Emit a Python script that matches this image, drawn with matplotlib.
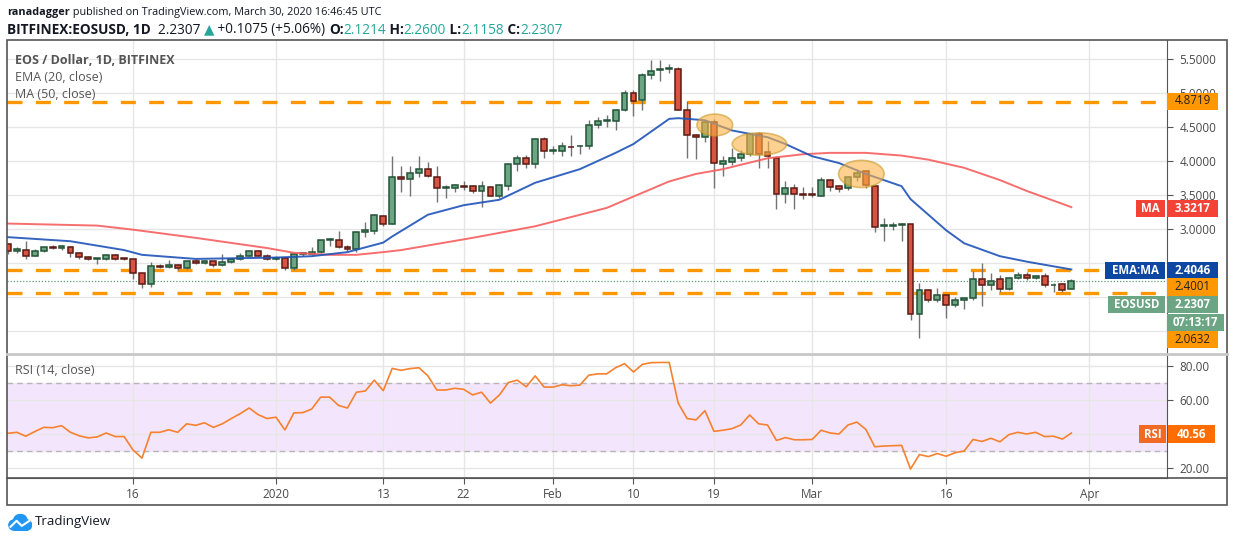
import numpy as np
import matplotlib
matplotlib.use("Agg")
import matplotlib.pyplot as plt
from matplotlib.patches import Ellipse, Rectangle, Circle

W, H = 1234, 541
plt.rcParams['font.family'] = ['Open Sans', 'DejaVu Sans']

# day index counted from 2020-01-01; first candle is 2019-12-02
days = np.arange(-30, 90)

opens = [2.78, 2.68, 2.69, 2.61, 2.68, 2.72, 2.72, 2.73, 2.645, 2.585, 2.555, 2.565, 2.62, 2.565,
         2.555, 2.35, 2.19, 2.46, 2.44, 2.47, 2.42, 2.525, 2.495, 2.525, 2.47, 2.51, 2.56, 2.61, 2.675, 2.61,
         2.56, 2.58, 2.43, 2.63, 2.635, 2.66, 2.835, 2.835, 2.74, 2.70, 2.96, 2.97, 3.19, 3.08, 3.77,
         3.74, 3.82, 3.88, 3.77, 3.61, 3.60, 3.63, 3.63, 3.56, 3.62, 3.49, 3.63, 3.95, 4.04, 3.95, 4.32,
         4.15, 4.15, 4.21, 4.215, 4.22, 4.53, 4.59, 4.59, 4.75, 5.0, 4.90, 5.26, 5.335, 5.35, 5.36,
         4.75, 4.38, 4.35, 4.58, 3.96, 3.99, 4.04, 4.10, 4.40, 4.13, 4.05, 3.52, 3.61, 3.51,
         3.51, 3.49, 3.72, 3.63, 3.60, 3.76, 3.85, 3.63, 3.04, 3.05, 3.06, 3.07, 1.745, 2.10, 1.95,
         2.025, 1.88, 1.95, 1.98, 2.26, 2.17, 2.26, 2.12, 2.28, 2.32, 2.28, 2.31, 2.17, 2.185, 2.1214]
highs = [2.80, 2.74, 2.82, 2.70, 2.74, 2.76, 2.77, 2.75, 2.66, 2.60, 2.58, 2.63, 2.625, 2.58,
         2.56, 2.35, 2.52, 2.48, 2.55, 2.49, 2.53, 2.56, 2.55, 2.53, 2.63, 2.57, 2.64, 2.69, 2.69, 2.63,
         2.61, 2.59, 2.64, 2.65, 2.74, 2.84, 2.87, 2.97, 2.76, 2.97, 3.10, 3.22, 3.20, 4.07, 3.93,
         3.93, 4.07, 3.98, 3.93, 3.64, 3.66, 3.71, 3.64, 3.70, 3.63, 3.66, 3.97, 4.09, 4.09, 4.34, 4.36,
         4.22, 4.28, 4.38, 4.23, 4.60, 4.65, 4.67, 4.77, 5.04, 5.05, 5.30, 5.49, 5.49, 5.42, 5.38,
         4.88, 4.40, 4.60, 4.62, 4.07, 4.19, 4.16, 4.40, 4.42, 4.30, 4.08, 3.70, 3.66, 3.62,
         3.62, 3.77, 3.74, 3.64, 3.78, 3.88, 3.86, 3.63, 3.16, 3.11, 3.09, 3.08, 2.21, 2.12, 2.13,
         2.03, 2.00, 1.99, 2.38, 2.50, 2.35, 2.33, 2.30, 2.37, 2.37, 2.32, 2.36, 2.21, 2.20, 2.26]
lows = [2.63, 2.64, 2.56, 2.60, 2.66, 2.70, 2.69, 2.59, 2.56, 2.54, 2.49, 2.55, 2.55, 2.54,
        2.26, 2.13, 2.15, 2.42, 2.42, 2.40, 2.41, 2.48, 2.48, 2.44, 2.46, 2.50, 2.55, 2.60, 2.60, 2.55,
        2.55, 2.39, 2.40, 2.60, 2.62, 2.65, 2.75, 2.72, 2.68, 2.66, 2.88, 2.93, 3.05, 3.07, 3.55,
        3.48, 3.76, 3.76, 3.40, 3.45, 3.55, 3.58, 3.53, 3.33, 3.48, 3.45, 3.58, 3.86, 3.89, 3.90, 4.05,
        4.10, 4.07, 4.07, 4.10, 4.17, 4.48, 4.50, 4.46, 4.73, 4.66, 4.75, 5.20, 5.17, 5.30, 4.75,
        4.04, 4.03, 4.28, 3.61, 3.78, 3.94, 4.00, 4.08, 3.90, 3.89, 3.30, 3.38, 3.30, 3.44,
        3.47, 3.48, 3.56, 3.55, 3.58, 3.70, 3.60, 2.96, 2.83, 2.98, 2.83, 1.66, 1.39, 1.92, 1.93,
        1.69, 1.85, 1.83, 1.96, 1.86, 2.10, 2.08, 2.10, 2.27, 2.25, 2.26, 2.14, 2.08, 2.08, 2.1158]
closes = [2.68, 2.70, 2.61, 2.68, 2.73, 2.718, 2.745, 2.645, 2.59, 2.555, 2.575, 2.62, 2.555, 2.56,
          2.35, 2.19, 2.45, 2.44, 2.47, 2.42, 2.525, 2.495, 2.525, 2.47, 2.51, 2.555, 2.61, 2.675, 2.61, 2.56,
          2.575, 2.43, 2.63, 2.635, 2.66, 2.835, 2.84, 2.74, 2.70, 2.95, 2.98, 3.21, 3.08, 3.77, 3.74,
          3.82, 3.88, 3.78, 3.60, 3.61, 3.64, 3.62, 3.56, 3.63, 3.49, 3.65, 3.95, 4.04, 3.95, 4.32, 4.15,
          4.16, 4.22, 4.20, 4.225, 4.53, 4.59, 4.595, 4.75, 5.0, 4.89, 5.26, 5.33, 5.345, 5.36, 4.75,
          4.38, 4.35, 4.58, 3.97, 4.0, 4.04, 4.11, 4.40, 4.11, 4.07, 3.52, 3.60, 3.51, 3.505,
          3.505, 3.72, 3.62, 3.59, 3.76, 3.83, 3.64, 3.03, 3.05, 3.06, 3.065, 1.745, 2.10, 1.95, 2.025,
          1.88, 1.95, 1.98, 2.26, 2.17, 2.24, 2.12, 2.28, 2.32, 2.28, 2.31, 2.17, 2.17, 2.10, 2.2307]

ema_days = [-30, -23, -17, -15, -9, 0, 4, 8, 12, 13, 14, 17, 21, 25, 29, 34, 38, 40, 44, 45, 48,
            51, 55, 57, 60, 63, 66, 68, 70, 71, 75, 77, 81, 84, 89]
ema20 = [2.88, 2.82, 2.69, 2.62, 2.56, 2.58, 2.60, 2.66, 2.80, 2.89, 2.97, 3.21, 3.35, 3.43, 3.68, 3.88,
         4.12, 4.25, 4.62, 4.63, 4.60, 4.45, 4.35, 4.25, 4.07, 3.97, 3.81, 3.72, 3.63, 3.44, 2.98, 2.79,
         2.60, 2.52, 2.4046]

ma_days = [-30, -20, -16, -9, -1, 2, 6, 9, 12, 14, 22, 29, 37, 44, 47, 50, 55, 59, 62, 66, 70, 73,
           77, 81, 84, 89]
ma50 = [3.08, 3.05, 2.99, 2.87, 2.72, 2.65, 2.62, 2.62, 2.66, 2.69, 2.87, 3.04, 3.31, 3.70, 3.81,
        3.88, 4.04, 4.10, 4.12, 4.12, 4.08, 4.02, 3.90, 3.72, 3.56, 3.3217]

rsi = [40.4, 41.0, 38.7, 41.4, 43.9, 43.7, 44.9, 41.0, 38.9, 37.7, 38.3, 40.6, 38.5, 38.5,
       30.6, 25.8, 41.0, 41.0, 42.5, 41.0, 46.0, 45.1, 46.6, 43.9, 46.0, 49.1, 52.0, 55.3, 51.4, 49.1,
       49.9, 42.4, 52.4, 52.6, 54.7, 61.7, 61.7, 56.8, 55.3, 64.6, 65.3, 71.7, 65.5, 78.6, 77.5,
       78.5, 79.0, 74.2, 65.9, 65.9, 66.9, 66.3, 63.0, 64.6, 58.2, 63.0, 70.3, 71.7, 67.8, 74.2, 67.6,
       67.6, 69.0, 68.4, 68.8, 74.6, 75.4, 75.4, 79.0, 81.4, 76.5, 81.0, 82.0, 82.1, 82.1, 58.2,
       49.1, 48.3, 53.7, 41.6, 42.2, 43.1, 45.3, 51.2, 46.0, 45.3, 36.2, 37.9, 36.6, 36.6,
       36.8, 42.2, 40.6, 40.0, 45.3, 47.0, 42.7, 32.5, 32.9, 33.1, 33.3, 19.4, 27.9, 26.7, 28.5,
       26.9, 29.0, 30.0, 36.8, 35.6, 37.5, 35.4, 39.6, 41.0, 40.0, 41.0, 38.5, 38.7, 37.0, 40.56]

levels = [4.8719, 2.4001, 2.0632]
last_close = 2.2307

tick_days = [-16, 0, 12, 21, 31, 40, 49, 60, 75, 91]
tick_labels = ["16", "2020", "13", "22", "Feb", "10", "19", "Mar", "16", "Apr"]
price_ticks = [3.0, 3.5, 4.0, 4.5, 5.0, 5.5]
rsi_ticks = [20, 60, 80]

# highlighted areas (day, price, width in days, height in price)
circles = [(49.1, 4.53, 4.0, 0.32), (54.1, 4.25, 6.1, 0.33), (65.5, 3.81, 5.1, 0.40)]

UP, DOWN = "#6ba583", "#d75442"
UP_EDGE, DOWN_EDGE = "#225437", "#5b1a13"
GRID = "#e6e6e6"
TXT = "#4a4a4a"


def fx(x):
    return x / W


def fy(y):
    return 1 - y / H


fig = plt.figure(figsize=(W / 100, H / 100), dpi=100)
fig.patch.set_facecolor("white")

x0, x1 = -30.1, 99.7
ax = fig.add_axes([fx(7), fy(353), fx(1167) - fx(7), fy(40) - fy(353)])
ax2 = fig.add_axes([fx(7), fy(478), fx(1167) - fx(7), fy(355) - fy(478)])

# ---- main price panel
o = np.array(opens); h = np.array(highs); l = np.array(lows); c = np.array(closes)
up = c >= o
ax.vlines(days, l, h, color="#737375", lw=1, zorder=2)
body_lo = np.minimum(o, c)
body_h = np.maximum(np.abs(c - o), 0.012)
ax.bar(days[up], body_h[up], bottom=body_lo[up], width=0.66, color=UP,
       edgecolor=UP_EDGE, linewidth=1.1, zorder=3)
ax.bar(days[~up], body_h[~up], bottom=body_lo[~up], width=0.66, color=DOWN,
       edgecolor=DOWN_EDGE, linewidth=1.1, zorder=3)

ax.plot(ma_days, ma50, color="#f65e5e", lw=1.4, zorder=4, alpha=0.9)
ax.plot(ema_days, ema20, color="#1e53b8", lw=1.4, zorder=4, alpha=0.9)

for lv in levels:
    ax.axhline(lv, color="#ff9800", lw=2.4, dashes=(4.5, 4), zorder=1)
ax.axhline(last_close, color="#5b9a78", lw=0.9, ls=(0, (1, 1.5)), zorder=1)

for (cx, cy, ew, eh) in circles:
    ax.add_patch(Ellipse((cx, cy), ew, eh, facecolor="#ffb347", alpha=0.6,
                         edgecolor="#c89a2a", lw=1.2, zorder=5))

ax.set_xlim(x0, x1)
ax.set_ylim(1.176, 5.78)
ax.set_yticks(np.arange(1.5, 5.51, 0.5), minor=True)
ax.set_yticks(price_ticks)
ax.set_yticklabels(["%.4f" % v for v in price_ticks])
ax.set_xticks(tick_days)
ax.grid(True, which="both", color=GRID, lw=1)
ax.set_axisbelow(True)
ax.tick_params(axis="x", length=0, labelbottom=False)
ax.yaxis.tick_right()
ax.tick_params(axis="y", which="both", direction="out", length=4, color="#555", labelsize=8.5,
               labelcolor=TXT, pad=5)
for s in ["top", "left", "bottom"]:
    ax.spines[s].set_visible(False)
ax.spines["right"].set_color("#555")

ax.text(0.007, 0.935, "EOS / Dollar, 1D, BITFINEX", transform=ax.transAxes, fontsize=9,
        fontweight="bold", color="#555", va="center")
ax.text(0.007, 0.88, "EMA (20, close)", transform=ax.transAxes, fontsize=9, color="#555", va="center")
ax.text(0.007, 0.826, "MA (50, close)", transform=ax.transAxes, fontsize=9, color="#555", va="center")

# ---- RSI panel
ax2.axhspan(30, 70, color="#f3e6fc", zorder=0)
ax2.axhline(70, color="#b5b5b5", lw=1, ls=(0, (4, 3)), zorder=1)
ax2.axhline(30, color="#b5b5b5", lw=1, ls=(0, (4, 3)), zorder=1)
ax2.plot(days, rsi, color="#f7812e", lw=1.2, zorder=3)
ax2.set_xlim(x0, x1)
ax2.set_ylim(14.1, 86.5)
ax2.set_yticks([40], minor=True)
ax2.set_yticks(rsi_ticks)
ax2.set_yticklabels(["%.2f" % v for v in rsi_ticks])
ax2.set_xticks(tick_days)
ax2.set_xticklabels(tick_labels)
ax2.grid(True, which="both", color=GRID, lw=1)
ax2.set_axisbelow(True)
ax2.yaxis.tick_right()
ax2.tick_params(axis="y", which="both", direction="out", length=4, color="#555", labelsize=8.5,
                labelcolor=TXT, pad=5)
ax2.tick_params(axis="x", direction="out", length=4, color="#555", labelsize=8.5,
                labelcolor=TXT, pad=3)
for s in ["top", "left"]:
    ax2.spines[s].set_visible(False)
ax2.spines["right"].set_color("#555")
ax2.spines["bottom"].set_color("#555")
ax2.text(0.007, 0.87, "RSI (14, close)", transform=ax2.transAxes, fontsize=9, color="#555", va="center")

# ---- frame lines
fig.add_artist(Rectangle((fx(7), fy(505)), fx(1227) - fx(7), fy(40) - fy(505), transform=fig.transFigure,
                         fill=False, edgecolor="#555", lw=1.2))
fig.add_artist(plt.Line2D([fx(7), fx(1227)], [fy(354), fy(354)], transform=fig.transFigure,
                          color="#c8c8c8", lw=2))
fig.add_artist(plt.Line2D([fx(7), fx(1227)], [fy(478), fy(478)], transform=fig.transFigure,
                          color="#555", lw=1.2))


# ---- price scale tags
def tag(xa, xb, yc, text, fc, tc, hh=17):
    fig.add_artist(Rectangle((fx(xa), fy(yc + hh / 2)), fx(xb) - fx(xa), fy(yc - hh / 2) - fy(yc + hh / 2),
                             transform=fig.transFigure, facecolor=fc, edgecolor="none", zorder=10))
    fig.text(fx((xa + xb) / 2), fy(yc), text, color=tc, fontsize=8.3, va="center", ha="center",
             zorder=11, fontweight="bold" if tc == "white" else "normal")


tag(1167, 1218, 101, "4.8719", "#ff9800", "#222")
tag(1136, 1165, 208, "MA", "#f44336", "white")
tag(1167, 1218, 208, "3.3217", "#f44336", "white")
tag(1105, 1165, 270.5, "EMA:MA", "#0d47a1", "white")
tag(1167, 1218, 270.5, "2.4046", "#0d47a1", "white")
tag(1167, 1218, 287, "2.4001", "#ff9800", "#222")
tag(1108, 1165, 304, "EOSUSD", "#6ba583", "white")
tag(1167, 1218, 304, "2.2307", "#6ba583", "white")
tag(1167, 1224, 322, "07:13:17", "#6ba583", "white")
tag(1167, 1218, 339.5, "2.0632", "#ff9800", "#222")
tag(1139, 1166, 434, "RSI", "#f06a25", "white")
tag(1168, 1215, 434, "40.56", "#ff6d00", "white")


# ---- header lines
def row(x, y, parts, size):
    r = fig.canvas.get_renderer()
    for txt, wt, col in parts:
        t = fig.text(fx(x), fy(y), txt, fontsize=size, fontweight=wt, color=col,
                     va="center", ha="left", family=["Open Sans", "DejaVu Sans"])
        x += t.get_window_extent(renderer=r).width


TEAL = "#26a69a"
row(7, 12, [("ranadagger", "bold", "#131722"),
            (" published on TradingView.com, March 30, 2020 16:46:45 UTC", "normal", "#131722")], 7.8)
row(7, 30, [("BITFINEX:EOSUSD, 1D", "bold", "#131722"), ("  2.2307 ", "normal", "#131722"),
            ("▲", "normal", TEAL), (" +0.1075 (+5.06%) ", "normal", "#131722"),
            ("O:", "bold", "#131722"), ("2.1214", "normal", TEAL), (" H:", "bold", "#131722"),
            ("2.2600", "normal", TEAL), (" L:", "bold", "#131722"), ("2.1158", "normal", TEAL),
            (" C:", "bold", "#131722"), ("2.2307", "normal", TEAL)], 9.8)

# ---- logo
lax = fig.add_axes([fx(8), fy(531), fx(32) - fx(8), fy(514) - fy(531)])
lax.set_xlim(0, 1.4)
lax.set_ylim(0, 1)
lax.axis("off")
for (cx, cy, r) in [(0.35, 0.35, 0.3), (0.72, 0.58, 0.4), (1.08, 0.35, 0.3)]:
    lax.add_patch(Circle((cx, cy), r, color="#2196f3"))
lax.add_patch(Rectangle((0.35, 0.05), 0.73, 0.4, color="#2196f3"))
lax.plot([0.15, 0.5, 0.8, 1.25], [0.25, 0.6, 0.3, 0.6], color="white", lw=1.5)
fig.text(fx(35), fy(522), "TradingView", fontsize=9.5, color="#131722", va="center", ha="left")

fig.savefig("out.png", dpi=100)
